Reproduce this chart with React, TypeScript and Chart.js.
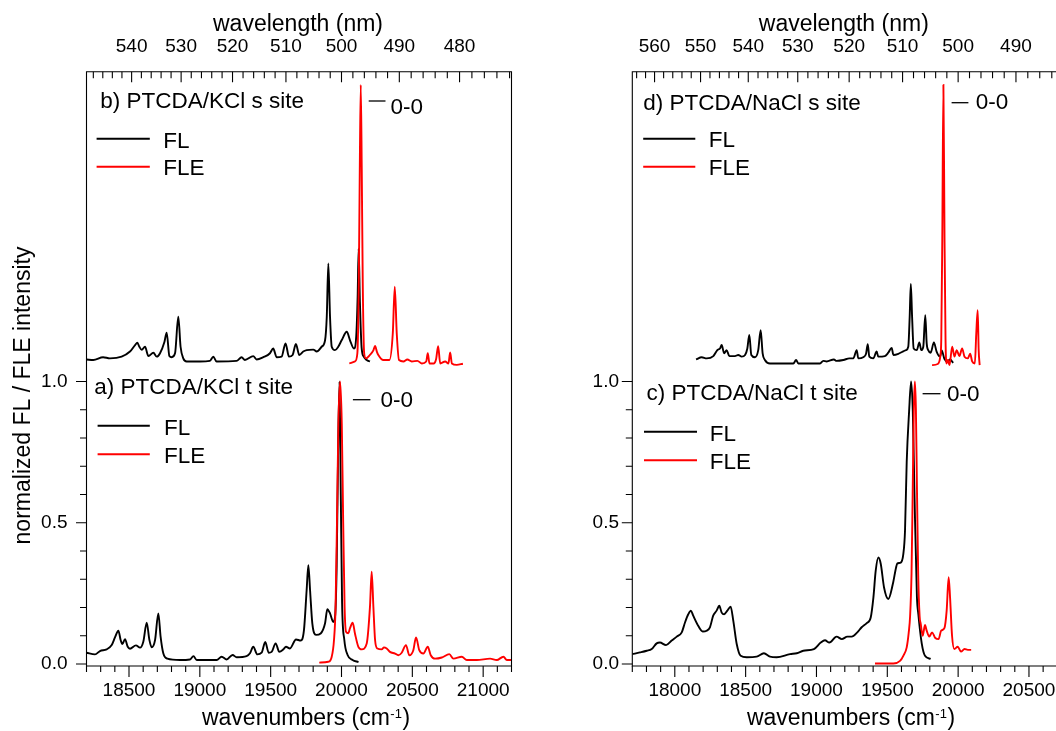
import React, { useEffect, useRef } from "react";
import { Chart, registerables } from "chart.js";

Chart.register(...registerables);

type Pt = [number, number];

// ---------- data (wavenumber cm^-1, normalized intensity; s-site spectra offset by ~1.07) ----------
// a) PTCDA/KCl t site
const KCL_T_FL: Pt[] = [
  [18200, 0.040], [18260, 0.034], [18295, 0.046], [18342, 0.052], [18378, 0.067], [18401, 0.094],
  [18425, 0.118], [18441, 0.085], [18453, 0.071], [18472, 0.088], [18491, 0.061], [18507, 0.054],
  [18549, 0.066], [18578, 0.058], [18601, 0.079], [18625, 0.146], [18644, 0.085], [18660, 0.059],
  [18684, 0.085], [18707, 0.179], [18723, 0.097], [18742, 0.038], [18771, 0.019], [18860, 0.014],
  [18931, 0.016], [18955, 0.028], [18978, 0.014], [19119, 0.014], [19154, 0.026], [19189, 0.016],
  [19231, 0.032], [19260, 0.024], [19330, 0.028], [19354, 0.038], [19377, 0.061], [19406, 0.034],
  [19436, 0.040], [19462, 0.078], [19486, 0.040], [19507, 0.043], [19535, 0.073], [19561, 0.043],
  [19590, 0.052], [19608, 0.061], [19636, 0.055], [19679, 0.087], [19712, 0.083], [19735, 0.120],
  [19754, 0.262], [19766, 0.350], [19778, 0.262], [19794, 0.144], [19820, 0.103], [19853, 0.108],
  [19884, 0.144], [19900, 0.194], [19919, 0.179], [19942, 0.149], [19955, 0.170], [19966, 0.350],
  [19976, 0.750], [19986, 1.000], [19995, 0.600], [20004, 0.220], [20020, 0.085], [20043, 0.032],
  [20078, 0.014], [20120, 0.007],
];
const KCL_T_FLE: Pt[] = [
  [19843, 0.005], [19907, 0.008], [19931, 0.026], [19947, 0.085], [19958, 0.200], [19968, 0.500],
  [19978, 0.850], [19990, 1.000], [20002, 0.850], [20012, 0.500], [20022, 0.200], [20032, 0.114],
  [20048, 0.109], [20060, 0.127], [20079, 0.146], [20095, 0.108], [20119, 0.061], [20143, 0.052],
  [20178, 0.073], [20201, 0.203], [20213, 0.327], [20225, 0.203], [20237, 0.085], [20253, 0.055],
  [20284, 0.052], [20300, 0.059], [20319, 0.055], [20342, 0.043], [20378, 0.037], [20401, 0.031],
  [20425, 0.040], [20455, 0.067], [20479, 0.031], [20507, 0.049], [20526, 0.094], [20549, 0.049],
  [20578, 0.037], [20609, 0.061], [20630, 0.031], [20660, 0.019], [20708, 0.023], [20761, 0.035],
  [20790, 0.019], [20849, 0.026], [20884, 0.014], [20955, 0.014], [21049, 0.019], [21096, 0.014],
  [21143, 0.026], [21167, 0.014], [21200, 0.014],
];
// b) PTCDA/KCl s site
const KCL_S_FL: Pt[] = [
  [18201, 1.078], [18248, 1.076], [18317, 1.086], [18365, 1.082], [18448, 1.088], [18507, 1.106],
  [18543, 1.129], [18559, 1.137], [18573, 1.123], [18590, 1.112], [18613, 1.123], [18637, 1.090],
  [18672, 1.102], [18696, 1.088], [18719, 1.100], [18750, 1.140], [18766, 1.173], [18785, 1.090],
  [18801, 1.086], [18825, 1.100], [18848, 1.229], [18864, 1.123], [18883, 1.082], [18907, 1.071],
  [19001, 1.071], [19071, 1.073], [19095, 1.088], [19118, 1.071], [19259, 1.073], [19295, 1.086],
  [19318, 1.076], [19377, 1.090], [19401, 1.078], [19448, 1.086], [19495, 1.100], [19518, 1.117],
  [19542, 1.086], [19577, 1.088], [19605, 1.135], [19629, 1.088], [19655, 1.094], [19678, 1.133],
  [19702, 1.094], [19730, 1.106], [19754, 1.111], [19801, 1.113], [19825, 1.106], [19860, 1.123],
  [19884, 1.146], [19896, 1.229], [19907, 1.418], [19919, 1.229], [19931, 1.123], [19954, 1.111],
  [19977, 1.123], [20001, 1.146], [20037, 1.176], [20060, 1.146], [20088, 1.117], [20104, 1.160],
  [20114, 1.300], [20121, 1.470], [20130, 1.280], [20142, 1.120], [20157, 1.088], [20178, 1.076],
  [20201, 1.071],
];
const KCL_S_FLE: Pt[] = [
  [20055, 1.064], [20095, 1.071], [20112, 1.100], [20122, 1.350], [20129, 1.750], [20136, 2.050],
  [20143, 1.750], [20150, 1.350], [20160, 1.100], [20173, 1.082], [20201, 1.094], [20225, 1.110],
  [20237, 1.126], [20250, 1.105], [20260, 1.094], [20295, 1.076], [20338, 1.076], [20362, 1.170],
  [20376, 1.336], [20390, 1.170], [20406, 1.076], [20437, 1.071], [20465, 1.078], [20496, 1.071],
  [20536, 1.073], [20567, 1.064], [20598, 1.071], [20609, 1.100], [20621, 1.064], [20650, 1.064],
  [20668, 1.080], [20682, 1.125], [20697, 1.064], [20732, 1.071], [20755, 1.064], [20767, 1.103],
  [20779, 1.064], [20814, 1.059], [20857, 1.063],
];
// c) PTCDA/NaCl t site
const NACL_T_FL: Pt[] = [
  [17700, 0.035], [17754, 0.041], [17802, 0.047], [17837, 0.053], [17872, 0.073], [17895, 0.076],
  [17938, 0.067], [17978, 0.083], [18014, 0.097], [18049, 0.112], [18072, 0.147], [18095, 0.176],
  [18114, 0.189], [18130, 0.171], [18159, 0.141], [18197, 0.115], [18225, 0.118], [18248, 0.130],
  [18271, 0.171], [18295, 0.189], [18314, 0.206], [18331, 0.182], [18348, 0.176], [18371, 0.189],
  [18394, 0.203], [18413, 0.153], [18437, 0.071], [18465, 0.029], [18508, 0.024], [18578, 0.026],
  [18629, 0.038], [18672, 0.026], [18719, 0.024], [18813, 0.035], [18861, 0.038], [18907, 0.047],
  [18982, 0.053], [19030, 0.076], [19060, 0.084], [19091, 0.076], [19142, 0.097], [19179, 0.088],
  [19218, 0.097], [19249, 0.097], [19288, 0.112], [19319, 0.130], [19355, 0.145], [19383, 0.165],
  [19402, 0.236], [19418, 0.330], [19437, 0.377], [19454, 0.354], [19477, 0.271], [19507, 0.230],
  [19539, 0.283], [19562, 0.342], [19571, 0.356], [19595, 0.359], [19613, 0.389], [19625, 0.472],
  [19637, 0.716], [19654, 0.895], [19668, 1.000], [19680, 0.895], [19692, 0.597], [19709, 0.239],
  [19719, 0.177], [19743, 0.073], [19766, 0.029], [19806, 0.018],
];
const NACL_T_FLE: Pt[] = [
  [19413, 0.002], [19543, 0.002], [19590, 0.011], [19613, 0.029], [19637, 0.059], [19651, 0.110],
  [19661, 0.170], [19671, 0.320], [19679, 0.600], [19687, 0.900], [19695, 1.000], [19702, 0.900],
  [19710, 0.600], [19718, 0.320], [19728, 0.170], [19736, 0.142], [19750, 0.100], [19766, 0.138],
  [19778, 0.118], [19796, 0.097], [19816, 0.112], [19839, 0.092], [19862, 0.088], [19880, 0.118],
  [19903, 0.127], [19919, 0.189], [19933, 0.307], [19943, 0.236], [19957, 0.100], [19973, 0.053],
  [19997, 0.061], [20020, 0.044], [20045, 0.053], [20068, 0.050], [20092, 0.050],
];
// d) PTCDA/NaCl s site
const NACL_S_FL: Pt[] = [
  [18150, 1.078], [18190, 1.086], [18225, 1.082], [18272, 1.090], [18300, 1.111], [18319, 1.117],
  [18331, 1.129], [18348, 1.100], [18366, 1.111], [18385, 1.090], [18425, 1.090], [18448, 1.094],
  [18472, 1.088], [18496, 1.094], [18512, 1.117], [18526, 1.165], [18540, 1.094], [18566, 1.086],
  [18589, 1.111], [18606, 1.182], [18620, 1.100], [18636, 1.076], [18672, 1.064], [18766, 1.064],
  [18837, 1.064], [18856, 1.076], [18872, 1.064], [19025, 1.064], [19048, 1.073], [19072, 1.071],
  [19123, 1.078], [19142, 1.073], [19190, 1.076], [19232, 1.082], [19260, 1.082], [19284, 1.111],
  [19295, 1.082], [19330, 1.086], [19350, 1.098], [19362, 1.132], [19373, 1.088], [19401, 1.082],
  [19425, 1.106], [19436, 1.088], [19483, 1.090], [19507, 1.102], [19531, 1.119], [19543, 1.094],
  [19578, 1.098], [19609, 1.106], [19632, 1.111], [19648, 1.123], [19658, 1.229], [19666, 1.345],
  [19675, 1.229], [19686, 1.117], [19708, 1.111], [19726, 1.138], [19740, 1.111], [19754, 1.123],
  [19768, 1.235], [19778, 1.135], [19789, 1.111], [19806, 1.102], [19829, 1.138], [19848, 1.106],
  [19872, 1.088], [19884, 1.110], [19903, 1.080], [19923, 1.070], [19943, 1.078], [19965, 1.066],
];
const NACL_S_FLE: Pt[] = [
  [19816, 1.058], [19856, 1.062], [19874, 1.088], [19881, 1.150], [19888, 1.500], [19896, 2.050],
  [19904, 1.500], [19911, 1.150], [19918, 1.064], [19927, 1.076], [19939, 1.058], [19958, 1.123],
  [19974, 1.088], [19990, 1.111], [20009, 1.090], [20028, 1.117], [20045, 1.088], [20068, 1.082],
  [20085, 1.098], [20099, 1.071], [20118, 1.064], [20128, 1.170], [20138, 1.252], [20145, 1.111],
  [20152, 1.058],
];

// ---------- ticks and labels ----------
const KCL_WN_TICKS = [18500, 19000, 19500, 20000, 20500, 21000];
const NACL_WN_TICKS = [18000, 18500, 19000, 19500, 20000, 20500];
const KCL_NM_TICKS = [540, 530, 520, 510, 500, 490, 480];
const NACL_NM_TICKS = [560, 550, 540, 530, 520, 510, 500, 490];
const Y_TICKS = [0, 0.5, 1.0];
const SERIES_NAMES = ["FL", "FLE"];
const KCL_PANEL_LABELS = ["b) PTCDA/KCl s site", "a) PTCDA/KCl t site"];
const NACL_PANEL_LABELS = ["d) PTCDA/NaCl s site", "c) PTCDA/NaCl t site"];
const ZERO_ZERO = "0-0";
const TOP_TITLE = "wavelength (nm)";
const BOTTOM_TITLE = "wavenumbers (cm";
const BOTTOM_SUP = "-1";
const Y_TITLE = "normalized FL / FLE intensity";

const FONT = "'Liberation Sans', Arial, Helvetica, sans-serif";
const RED = "#ff0000";
const BLACK = "#000000";

// ---------- layout (page pixel coordinates) ----------
interface Panel {
  canvasLeft: number;
  canvasWidth: number;
  xMin: number;
  xMax: number;
  areaLeft: number;
  areaRight: number;
  yLabelRight: number;
  wnTicks: number[];
  nmTicks: number[];
  upperFL: Pt[];
  upperFLE: Pt[];
  lowerFL: Pt[];
  lowerFLE: Pt[];
  labels: string[];
  labelPos: { x: number; y: number }[];
  zero: { x1: number; x2: number; y: number; tx: number; ty: number }[];
  legend: { x1: number; x2: number; y1: number; y2: number; tx: number; t1: number; t2: number }[];
  bottomTitleCx: number;
  yTitle: boolean;
}

const AREA_TOP = 71.7;
const AREA_BOTTOM = 666;
const Y_MIN = -0.007;
const Y_MAX = 2.0966;

const PANELS: Panel[] = [
  {
    canvasLeft: 0,
    canvasWidth: 528,
    xMin: 18200,
    xMax: 21200,
    areaLeft: 86.5,
    areaRight: 511.5,
    yLabelRight: 67.5,
    wnTicks: KCL_WN_TICKS,
    nmTicks: KCL_NM_TICKS,
    upperFL: KCL_S_FL,
    upperFLE: KCL_S_FLE,
    lowerFL: KCL_T_FL,
    lowerFLE: KCL_T_FLE,
    labels: KCL_PANEL_LABELS,
    labelPos: [{ x: 100.3, y: 108 }, { x: 94.3, y: 394 }],
    zero: [
      { x1: 368.7, x2: 385.5, y: 101, tx: 390.6, ty: 114 },
      { x1: 352.9, x2: 370.4, y: 399.7, tx: 380.5, ty: 407 },
    ],
    legend: [
      { x1: 96.6, x2: 149.8, y1: 138.7, y2: 166.7, tx: 163.3, t1: 147.5, t2: 175 },
      { x1: 97.6, x2: 149.8, y1: 425.7, y2: 454.3, tx: 164, t1: 434.7, t2: 462.7 },
    ],
    bottomTitleCx: 305.5,
    yTitle: true,
  },
  {
    canvasLeft: 528,
    canvasWidth: 540,
    xMin: 17700,
    xMax: 20700,
    areaLeft: 632.3,
    areaRight: 1057.3,
    yLabelRight: 619,
    wnTicks: NACL_WN_TICKS,
    nmTicks: NACL_NM_TICKS,
    upperFL: NACL_S_FL,
    upperFLE: NACL_S_FLE,
    lowerFL: NACL_T_FL,
    lowerFLE: NACL_T_FLE,
    labels: NACL_PANEL_LABELS,
    labelPos: [{ x: 643.2, y: 110 }, { x: 646.5, y: 400.4 }],
    zero: [
      { x1: 951.6, x2: 968.4, y: 102.7, tx: 975.8, ty: 109.4 },
      { x1: 922.6, x2: 940.5, y: 393.7, tx: 947, ty: 401 },
    ],
    legend: [
      { x1: 643.2, x2: 695.3, y1: 138.7, y2: 166.7, tx: 708.8, t1: 147, t2: 175 },
      { x1: 644, x2: 697, y1: 431.7, y2: 460.3, tx: 709.8, t1: 440.8, t2: 469.4 },
    ],
    bottomTitleCx: 850.5,
    yTitle: false,
  },
];

const toXY = (pts: Pt[]) => pts.map(([x, y]) => ({ x, y }));

function makeDecorPlugin(p: Panel) {
  return {
    id: "decor",
    afterDraw(chart: any) {
      const ctx: CanvasRenderingContext2D = chart.ctx;
      const xs = chart.scales.x;
      const ys = chart.scales.y;
      const { left, right, top, bottom } = chart.chartArea;
      const ox = p.canvasLeft;
      ctx.save();
      ctx.strokeStyle = BLACK;
      ctx.lineWidth = 1.1;
      // frame
      ctx.beginPath();
      ctx.rect(left, top, right - left, bottom - top);
      ctx.stroke();
      ctx.beginPath();
      // bottom ticks (outward)
      for (let v = Math.ceil(p.xMin / 100) * 100; v <= p.xMax; v += 100) {
        const px = xs.getPixelForValue(v);
        const len = v % 500 === 0 ? 11 : 6;
        ctx.moveTo(px, bottom);
        ctx.lineTo(px, bottom + len);
      }
      // top ticks (wavelength, inward)
      const nmHi = Math.floor(1e7 / p.xMin);
      let nmLo = Math.ceil(1e7 / p.xMax);
      if (nmLo % 2) nmLo += 1;
      for (let l = nmLo; l <= nmHi; l += 2) {
        const px = xs.getPixelForValue(1e7 / l);
        const len = l % 10 === 0 ? 10.5 : 6.5;
        ctx.moveTo(px, top);
        ctx.lineTo(px, top + len);
      }
      // left ticks (outward)
      for (let i = 0; i <= 10; i++) {
        const py = ys.getPixelForValue(i / 10);
        const len = i % 5 === 0 ? 10.5 : 6.5;
        ctx.moveTo(left, py);
        ctx.lineTo(left - len, py);
      }
      ctx.stroke();

      ctx.fillStyle = BLACK;
      ctx.textBaseline = "alphabetic";
      // top title
      ctx.font = `23px ${FONT}`;
      ctx.textAlign = "center";
      ctx.fillText(TOP_TITLE, (left + right) / 2 - 1, 31);
      // bottom title with superscript
      ctx.textAlign = "left";
      ctx.font = `23px ${FONT}`;
      const w1 = ctx.measureText(BOTTOM_TITLE).width;
      const w3 = ctx.measureText(")").width;
      ctx.font = `13px ${FONT}`;
      const w2 = ctx.measureText(BOTTOM_SUP).width;
      const x0 = p.bottomTitleCx - ox - (w1 + w2 + w3) / 2;
      ctx.font = `23px ${FONT}`;
      ctx.fillText(BOTTOM_TITLE, x0, 725);
      ctx.font = `13px ${FONT}`;
      ctx.fillText(BOTTOM_SUP, x0 + w1 + 0.5, 718);
      ctx.font = `23px ${FONT}`;
      ctx.fillText(")", x0 + w1 + w2 + 1, 725);
      // y title
      if (p.yTitle) {
        ctx.save();
        ctx.translate(29.6 - ox, 395.5);
        ctx.rotate(-Math.PI / 2);
        ctx.textAlign = "center";
        ctx.font = `23px ${FONT}`;
        ctx.fillText(Y_TITLE, 0, 0);
        ctx.restore();
      }
      // panel labels, 0-0 markers, legends
      ctx.font = `22.5px ${FONT}`;
      ctx.textAlign = "left";
      for (let k = 0; k < 2; k++) {
        ctx.fillText(p.labels[k], p.labelPos[k].x - ox, p.labelPos[k].y);
        const z = p.zero[k];
        ctx.strokeStyle = BLACK;
        ctx.lineWidth = 1.3;
        ctx.beginPath();
        ctx.moveTo(z.x1 - ox, z.y);
        ctx.lineTo(z.x2 - ox, z.y);
        ctx.stroke();
        ctx.fillText(ZERO_ZERO, z.tx - ox, z.ty);
        const g = p.legend[k];
        ctx.lineWidth = 2;
        ctx.strokeStyle = BLACK;
        ctx.beginPath();
        ctx.moveTo(g.x1 - ox, g.y1);
        ctx.lineTo(g.x2 - ox, g.y1);
        ctx.stroke();
        ctx.strokeStyle = RED;
        ctx.beginPath();
        ctx.moveTo(g.x1 - ox, g.y2);
        ctx.lineTo(g.x2 - ox, g.y2);
        ctx.stroke();
        ctx.fillText(SERIES_NAMES[0], g.tx - ox, g.t1);
        ctx.fillText(SERIES_NAMES[1], g.tx - ox, g.t2);
      }
      ctx.restore();
    },
  };
}

function PanelChart({ p }: { p: Panel }) {
  const ref = useRef<HTMLCanvasElement | null>(null);
  useEffect(() => {
    if (!ref.current) return;
    const tickFont = { family: FONT, size: 19 };
    const ds = (data: Pt[], color: string, label: string) => ({
      label,
      data: toXY(data),
      borderColor: color,
      backgroundColor: color,
      borderWidth: 1.9,
      pointRadius: 0,
      fill: false,
      cubicInterpolationMode: "monotone" as const,
    });
    const chart = new Chart(ref.current, {
      type: "line",
      data: {
        datasets: [
          ds(p.upperFLE, RED, SERIES_NAMES[1]),
          ds(p.lowerFLE, RED, SERIES_NAMES[1]),
          ds(p.upperFL, BLACK, SERIES_NAMES[0]),
          ds(p.lowerFL, BLACK, SERIES_NAMES[0]),
        ],
      },
      options: {
        responsive: false,
        animation: false,
        devicePixelRatio: 1,
        events: [],
        layout: { padding: { left: 0, top: 0, bottom: 0, right: p.canvasLeft + p.canvasWidth - p.areaRight } },
        plugins: { legend: { display: false }, tooltip: { enabled: false }, title: { display: false } },
        scales: {
          x: {
            type: "linear",
            position: "bottom",
            min: p.xMin,
            max: p.xMax,
            grid: { display: false, drawTicks: true, tickLength: 13.6 },
            border: { display: false },
            ticks: {
              font: tickFont,
              color: BLACK,
              padding: 0,
              maxRotation: 0,
              autoSkip: false,
              callback: (v: any) => String(v),
            },
            afterBuildTicks: (s: any) => {
              s.ticks = p.wnTicks.map((v) => ({ value: v }));
            },
            afterFit: (s: any) => {
              s.height = 731 - AREA_BOTTOM;
            },
          },
          x2: {
            type: "linear",
            axis: "x",
            position: "top",
            min: p.xMin,
            max: p.xMax,
            grid: { display: false, drawTicks: true, tickLength: 13.3 },
            border: { display: false },
            ticks: {
              font: tickFont,
              color: BLACK,
              padding: 0,
              maxRotation: 0,
              autoSkip: false,
              callback: (v: any) => String(Math.round(1e7 / Number(v))),
            },
            afterBuildTicks: (s: any) => {
              s.ticks = p.nmTicks.map((l) => ({ value: 1e7 / l }));
            },
            afterFit: (s: any) => {
              s.height = AREA_TOP;
            },
          },
          y: {
            type: "linear",
            position: "left",
            min: Y_MIN,
            max: Y_MAX,
            grid: { display: false, drawTicks: true, tickLength: p.areaLeft - p.yLabelRight },
            border: { display: false },
            ticks: {
              font: tickFont,
              color: BLACK,
              padding: 0,
              autoSkip: false,
              callback: (v: any) => Number(v).toFixed(1),
            },
            afterBuildTicks: (s: any) => {
              s.ticks = Y_TICKS.map((v) => ({ value: v }));
            },
            afterFit: (s: any) => {
              s.width = p.areaLeft - p.canvasLeft;
            },
          },
        },
      } as any,
      plugins: [makeDecorPlugin(p)],
    });
    return () => chart.destroy();
  }, [p]);
  return (
    <div style={{ position: "absolute", left: p.canvasLeft, top: 0, width: p.canvasWidth, height: 731 }}>
      <canvas ref={ref} width={p.canvasWidth} height={731} style={{ width: p.canvasWidth, height: 731, display: "block" }} />
    </div>
  );
}

export default function App() {
  return (
    <div
      style={{
        position: "absolute",
        left: 0,
        top: 0,
        width: 1056,
        height: 731,
        overflow: "hidden",
        background: "#ffffff",
      }}
    >
      {PANELS.map((p, i) => (
        <PanelChart key={i} p={p} />
      ))}
    </div>
  );
}
